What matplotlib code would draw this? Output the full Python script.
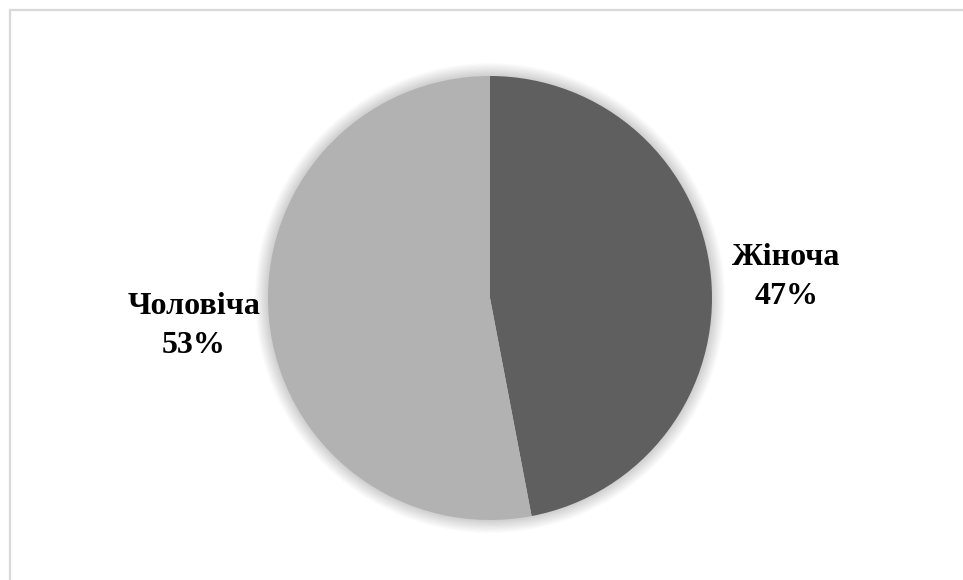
import matplotlib
matplotlib.use("Agg")
import matplotlib.pyplot as plt
from matplotlib.patches import Rectangle, Circle

categories = ["Жіноча", "Чоловіча"]
shares = [47, 53]
colors = ["#5f5f5f", "#b2b2b2"]

W, H, DPI = 963, 580, 100
fig = plt.figure(figsize=(W / DPI, H / DPI), dpi=DPI)
fig.patch.set_facecolor("white")

# chart frame (light grey outline, running off the right/bottom edge)
fig.patches.append(Rectangle((9.5 / W, -0.05), 1.1, (H - 9.5) / H + 0.05,
                             transform=fig.transFigure, fill=False,
                             edgecolor="#d9d9d9", linewidth=1.6))

cx, cy, r = 490, 298, 222
ax = fig.add_axes([(cx - r) / W, (H - cy - r) / H, 2 * r / W, 2 * r / H])
ax.set_xlim(-1, 1)
ax.set_ylim(-1, 1)
ax.set_aspect("equal")
ax.axis("off")

# soft glow around the pie
n = 24
for i in range(n):
    ax.add_patch(Circle((0, 0), 1.0 + 0.06 * (i + 1) / n, facecolor="black",
                        edgecolor="none", alpha=0.008, zorder=0, clip_on=False))

labels = [f"{c}\n{v}%" for c, v in zip(categories, shares)]
wedges, texts = ax.pie(shares, colors=colors, startangle=90, counterclock=False,
                       radius=1.0, labels=labels, labeldistance=1.34,
                       wedgeprops=dict(linewidth=0, zorder=2),
                       textprops=dict(fontsize=23, fontweight="bold",
                                      family="Liberation Serif", color="black",
                                      linespacing=1.45))
for t in texts:
    t.set_ha("center")
    t.set_va("center")
    t.set_clip_on(False)
# the right-hand label sits a little lower than its slice's mid-angle
x0, y0 = texts[0].get_position()
texts[0].set_position((x0, y0 - 0.03))
for w in wedges:
    w.set_zorder(2)
ax.set_xlim(-1, 1)
ax.set_ylim(-1, 1)

fig.savefig("out.png", dpi=DPI, facecolor="white")
